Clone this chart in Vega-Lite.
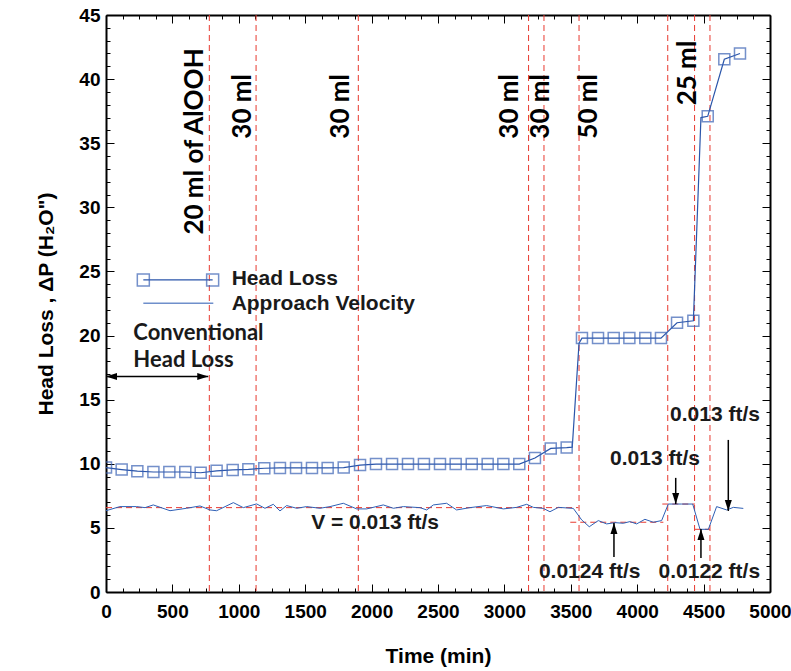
{
  "$schema": "https://vega.github.io/schema/vega-lite/v6.json",
  "width": 664,
  "height": 577,
  "autosize": {"type": "none"},
  "padding": {"left": 106, "top": 15, "right": 21, "bottom": 79},
  "background": "white",
  "config": {"view": {"stroke": null}},
  "datasets": {
    "hl": [
      {"t": 0, "h": 9.7}, {"t": 118, "h": 9.55}, {"t": 236, "h": 9.42}, {"t": 357, "h": 9.36},
      {"t": 477, "h": 9.36}, {"t": 597, "h": 9.36}, {"t": 713, "h": 9.3}, {"t": 833, "h": 9.45},
      {"t": 954, "h": 9.52}, {"t": 1072, "h": 9.57}, {"t": 1192, "h": 9.65}, {"t": 1310, "h": 9.68},
      {"t": 1431, "h": 9.68}, {"t": 1551, "h": 9.68}, {"t": 1669, "h": 9.68}, {"t": 1790, "h": 9.7},
      {"t": 1913, "h": 9.9}, {"t": 2033, "h": 9.98}, {"t": 2154, "h": 9.98}, {"t": 2274, "h": 9.98},
      {"t": 2394, "h": 9.98}, {"t": 2515, "h": 9.98}, {"t": 2633, "h": 9.98}, {"t": 2754, "h": 9.98},
      {"t": 2874, "h": 9.98}, {"t": 2992, "h": 9.98}, {"t": 3112, "h": 9.98}, {"t": 3230, "h": 10.45},
      {"t": 3349, "h": 11.2}, {"t": 3469, "h": 11.26}, {"t": 3584, "h": 19.8}, {"t": 3705, "h": 19.8},
      {"t": 3823, "h": 19.8}, {"t": 3941, "h": 19.8}, {"t": 4061, "h": 19.8}, {"t": 4179, "h": 19.8},
      {"t": 4300, "h": 21.0}, {"t": 4423, "h": 21.15}, {"t": 4531, "h": 37.1}, {"t": 4656, "h": 41.55},
      {"t": 4774, "h": 42.0}
    ],
    "hlline": [
      {"t": 0, "h": 9.7}, {"t": 118, "h": 9.55}, {"t": 236, "h": 9.42}, {"t": 357, "h": 9.36},
      {"t": 477, "h": 9.36}, {"t": 597, "h": 9.36}, {"t": 713, "h": 9.3}, {"t": 833, "h": 9.45},
      {"t": 954, "h": 9.52}, {"t": 1072, "h": 9.57}, {"t": 1192, "h": 9.65}, {"t": 1310, "h": 9.68},
      {"t": 1431, "h": 9.68}, {"t": 1551, "h": 9.68}, {"t": 1669, "h": 9.68}, {"t": 1790, "h": 9.7},
      {"t": 1913, "h": 9.9}, {"t": 2033, "h": 9.98}, {"t": 2154, "h": 9.98}, {"t": 2274, "h": 9.98},
      {"t": 2394, "h": 9.98}, {"t": 2515, "h": 9.98}, {"t": 2633, "h": 9.98}, {"t": 2754, "h": 9.98},
      {"t": 2874, "h": 9.98}, {"t": 2992, "h": 9.98}, {"t": 3112, "h": 9.98}, {"t": 3230, "h": 10.45},
      {"t": 3349, "h": 11.2}, {"t": 3469, "h": 11.26}, {"t": 3511, "h": 11.3}, {"t": 3562, "h": 19.4},
      {"t": 3584, "h": 19.8}, {"t": 3705, "h": 19.8},
      {"t": 3823, "h": 19.8}, {"t": 3941, "h": 19.8}, {"t": 4061, "h": 19.8}, {"t": 4179, "h": 19.8},
      {"t": 4300, "h": 21.0}, {"t": 4423, "h": 21.15}, {"t": 4480, "h": 37.0}, {"t": 4531, "h": 37.1},
      {"t": 4656, "h": 41.55}, {"t": 4774, "h": 42.0}
    ],
    "vel": [
      {"t": 0, "v": 6.34}, {"t": 105, "v": 6.66}, {"t": 231, "v": 6.66}, {"t": 294, "v": 6.58},
      {"t": 356, "v": 6.79}, {"t": 482, "v": 6.34}, {"t": 607, "v": 6.53}, {"t": 708, "v": 6.71},
      {"t": 783, "v": 6.4}, {"t": 833, "v": 6.34}, {"t": 959, "v": 6.97}, {"t": 1034, "v": 6.58},
      {"t": 1134, "v": 6.87}, {"t": 1197, "v": 6.53}, {"t": 1260, "v": 6.84}, {"t": 1310, "v": 6.32},
      {"t": 1360, "v": 6.74}, {"t": 1436, "v": 6.53}, {"t": 1511, "v": 6.66}, {"t": 1611, "v": 6.53},
      {"t": 1687, "v": 6.66}, {"t": 1787, "v": 6.92}, {"t": 1888, "v": 6.48}, {"t": 1963, "v": 6.48},
      {"t": 2088, "v": 6.79}, {"t": 2164, "v": 6.53}, {"t": 2239, "v": 6.66}, {"t": 2364, "v": 6.58},
      {"t": 2415, "v": 6.4}, {"t": 2465, "v": 6.79}, {"t": 2565, "v": 6.92}, {"t": 2640, "v": 6.4},
      {"t": 2741, "v": 6.58}, {"t": 2866, "v": 6.74}, {"t": 2992, "v": 6.48}, {"t": 3092, "v": 6.6},
      {"t": 3168, "v": 6.84}, {"t": 3218, "v": 6.6}, {"t": 3293, "v": 6.52}, {"t": 3343, "v": 6.26},
      {"t": 3406, "v": 6.6}, {"t": 3519, "v": 6.52}, {"t": 3582, "v": 5.62}, {"t": 3639, "v": 5.09},
      {"t": 3707, "v": 5.57}, {"t": 3770, "v": 5.31}, {"t": 3833, "v": 5.41}, {"t": 3895, "v": 5.36},
      {"t": 3945, "v": 5.49}, {"t": 3996, "v": 5.31}, {"t": 4058, "v": 5.67}, {"t": 4121, "v": 5.44},
      {"t": 4184, "v": 5.57}, {"t": 4234, "v": 6.86}, {"t": 4335, "v": 6.86}, {"t": 4418, "v": 6.86},
      {"t": 4473, "v": 4.89}, {"t": 4536, "v": 4.89}, {"t": 4598, "v": 6.66}, {"t": 4674, "v": 6.4},
      {"t": 4724, "v": 6.6}, {"t": 4799, "v": 6.52}
    ],
    "vlines": [
      {"t": 778}, {"t": 1130}, {"t": 1900}, {"t": 3182}, {"t": 3298}, {"t": 3562}, {"t": 4230}, {"t": 4432}, {"t": 4548}
    ],
    "hseg": [
      {"x1": 0, "x2": 3557, "y": 6.58},
      {"x1": 3496, "x2": 4197, "y": 5.44},
      {"x1": 4189, "x2": 4435, "y": 6.86},
      {"x1": 4435, "x2": 4548, "y": 4.89}
    ],
    "vlabels": [
      {"t": 670, "y": 42.4, "label": "20 ml of AlOOH"},
      {"t": 1032, "y": 40.4, "label": "30 ml"},
      {"t": 1770, "y": 40.4, "label": "30 ml"},
      {"t": 3042, "y": 40.4, "label": "30 ml"},
      {"t": 3275, "y": 40.4, "label": "30 ml"},
      {"t": 3637, "y": 40.4, "label": "50 ml"},
      {"t": 4382, "y": 43.0, "label": "25 ml"}
    ],
    "notes": [
      {"t": 2026, "y": 5.4, "label": "V = 0.013 ft/s"},
      {"t": 3642, "y": 1.53, "label": "0.0124 ft/s"},
      {"t": 4543, "y": 1.53, "label": "0.0122 ft/s"},
      {"t": 4134, "y": 10.36, "label": "0.013 ft/s"},
      {"t": 4586, "y": 13.8, "label": "0.013 ft/s"},
      {"t": 946, "y": 24.4, "label": "Head Loss", "kind": "legend"},
      {"t": 946, "y": 22.5, "label": "Approach  Velocity", "kind": "legend"}
    ],
    "conv": [
      {"t": 206, "y": 20.18, "label": "Conventional"},
      {"t": 206, "y": 18.1, "label": "Head Loss"}
    ],
    "arrows": [
      {"x": 3825, "y1": 2.73, "y2": 5.38, "dir": "up"},
      {"x": 4480, "y1": 2.65, "y2": 4.92, "dir": "up"},
      {"x": 4290, "y1": 8.9, "y2": 6.86, "dir": "down"},
      {"x": 4686, "y1": 11.86, "y2": 6.32, "dir": "down"}
    ],
    "harrow": [{"x1": 0, "x2": 770, "y": 16.8}],
    "leghl": [{"x1": 281, "x2": 803, "y": 24.34}],
    "leghlsq": [{"t": 281, "y": 24.34}, {"t": 803, "y": 24.34}],
    "legvel": [{"x1": 281, "x2": 808, "y": 22.52}]
  },
  "layer": [
    {
      "data": {"name": "vlines"},
      "mark": {"type": "rule", "color": "#E8392F", "strokeDash": [6, 4], "strokeWidth": 1},
      "encoding": {
        "x": {"field": "t", "type": "quantitative", "scale": {"domain": [0, 5000], "nice": false, "zero": false}, "axis": null}
      }
    },
    {
      "data": {"name": "hseg"},
      "mark": {"type": "rule", "color": "#E8392F", "strokeDash": [6, 4], "strokeWidth": 1},
      "encoding": {
        "x": {"field": "x1", "type": "quantitative", "axis": null},
        "x2": {"field": "x2"},
        "y": {"field": "y", "type": "quantitative", "scale": {"domain": [0, 45], "nice": false, "zero": false}, "axis": null}
      }
    },
    {
      "data": {"name": "vel"},
      "mark": {"type": "line", "color": "#2E5FB5", "strokeWidth": 1},
      "encoding": {
        "x": {
          "field": "t", "type": "quantitative",
          "scale": {"domain": [0, 5000], "nice": false, "zero": false},
          "axis": {
            "orient": "bottom",
            "values": [0,125,250,375,500,625,750,875,1000,1125,1250,1375,1500,1625,1750,1875,2000,2125,2250,2375,2500,2625,2750,2875,3000,3125,3250,3375,3500,3625,3750,3875,4000,4125,4250,4375,4500,4625,4750,4875,5000],
            "format": "d",
            "labelExpr": "datum.value % 500 === 0 ? datum.label : ''",
            "tickSize": {"condition": {"test": "datum.value % 500 === 0", "value": -8}, "value": -4},
            "tickColor": "black", "tickWidth": 1,
            "domainColor": "black", "domainWidth": 2,
            "labelPadding": 18, "labelFont": "Liberation Sans", "labelFontWeight": "bold", "labelFontSize": 19, "labelColor": "black",
            "labelFlush": false, "labelOverlap": false,
            "grid": false,
            "title": "Time (min)", "titleFont": "Liberation Sans", "titleFontWeight": "bold", "titleFontSize": 21, "titleColor": "black", "titlePadding": 20
          }
        },
        "y": {
          "field": "v", "type": "quantitative",
          "scale": {"domain": [0, 45], "nice": false, "zero": false},
          "axis": {
            "orient": "left",
            "values": [0,1,2,3,4,5,6,7,8,9,10,11,12,13,14,15,16,17,18,19,20,21,22,23,24,25,26,27,28,29,30,31,32,33,34,35,36,37,38,39,40,41,42,43,44,45],
            "labelExpr": "datum.value % 5 === 0 ? datum.label : ''",
            "tickSize": {"condition": {"test": "datum.value % 5 === 0", "value": -8}, "value": -4},
            "tickColor": "black", "tickWidth": 1,
            "domainColor": "black", "domainWidth": 2,
            "labelPadding": 14, "labelFont": "Liberation Sans", "labelFontWeight": "bold", "labelFontSize": 19, "labelColor": "black",
            "labelFlush": false, "labelOverlap": false,
            "grid": false,
            "title": "Head Loss , ΔP (H₂O\")", "titleFont": "Liberation Sans", "titleFontWeight": "bold", "titleFontSize": 21, "titleColor": "black", "titlePadding": 22
          }
        }
      }
    },
    {
      "data": {"name": "hlline"},
      "mark": {"type": "line", "color": "#2A55AA", "strokeWidth": 1.2},
      "encoding": {
        "x": {
          "field": "t", "type": "quantitative",
          "scale": {"domain": [0, 5000], "nice": false, "zero": false},
          "axis": {
            "orient": "top",
            "values": [0,125,250,375,500,625,750,875,1000,1125,1250,1375,1500,1625,1750,1875,2000,2125,2250,2375,2500,2625,2750,2875,3000,3125,3250,3375,3500,3625,3750,3875,4000,4125,4250,4375,4500,4625,4750,4875,5000],
            "labels": false,
            "tickSize": {"condition": {"test": "datum.value % 500 === 0", "value": -8}, "value": -4},
            "tickColor": "black", "tickWidth": 1,
            "domainColor": "black", "domainWidth": 2,
            "grid": false, "title": null
          }
        },
        "y": {
          "field": "h", "type": "quantitative",
          "scale": {"domain": [0, 45], "nice": false, "zero": false},
          "axis": {
            "orient": "right",
            "values": [0,1,2,3,4,5,6,7,8,9,10,11,12,13,14,15,16,17,18,19,20,21,22,23,24,25,26,27,28,29,30,31,32,33,34,35,36,37,38,39,40,41,42,43,44,45],
            "labels": false,
            "tickSize": {"condition": {"test": "datum.value % 5 === 0", "value": -8}, "value": -4},
            "tickColor": "black", "tickWidth": 1,
            "domainColor": "black", "domainWidth": 2,
            "grid": false, "title": null
          }
        }
      }
    },
    {
      "data": {"name": "hl"},
      "mark": {"type": "point", "shape": "square", "filled": false, "size": 121, "color": "#3A62B5", "strokeWidth": 1.5, "clip": true},
      "encoding": {
        "x": {"field": "t", "type": "quantitative", "axis": null},
        "y": {"field": "h", "type": "quantitative", "axis": null}
      }
    },
    {
      "data": {"name": "vlabels"},
      "mark": {"type": "text", "angle": 270, "align": "right", "baseline": "middle", "font": "Lato", "fontWeight": "bold", "fontSize": 26, "color": "black"},
      "encoding": {
        "x": {"field": "t", "type": "quantitative", "axis": null},
        "y": {"field": "y", "type": "quantitative", "axis": null},
        "text": {"field": "label"}
      }
    },
    {
      "data": {"name": "notes"},
      "transform": [{"filter": "datum.kind !== 'legend'"}],
      "mark": {"type": "text", "align": "center", "baseline": "middle", "font": "Liberation Sans", "fontWeight": "bold", "fontSize": 21, "color": "#1a1a1a"},
      "encoding": {
        "x": {"field": "t", "type": "quantitative", "axis": null},
        "y": {"field": "y", "type": "quantitative", "axis": null},
        "text": {"field": "label"}
      }
    },
    {
      "data": {"name": "notes"},
      "transform": [{"filter": "datum.kind === 'legend'"}],
      "mark": {"type": "text", "align": "left", "baseline": "middle", "font": "Liberation Sans", "fontWeight": "bold", "fontSize": 21, "color": "#1a1a1a"},
      "encoding": {
        "x": {"field": "t", "type": "quantitative", "axis": null},
        "y": {"field": "y", "type": "quantitative", "axis": null},
        "text": {"field": "label"}
      }
    },
    {
      "data": {"name": "conv"},
      "mark": {"type": "text", "align": "left", "baseline": "middle", "font": "Lato", "fontWeight": "bold", "fontSize": 22, "color": "#1a1a1a"},
      "encoding": {
        "x": {"field": "t", "type": "quantitative", "axis": null},
        "y": {"field": "y", "type": "quantitative", "axis": null},
        "text": {"field": "label"}
      }
    },
    {
      "data": {"name": "arrows"},
      "mark": {"type": "rule", "color": "black", "strokeWidth": 1.5},
      "encoding": {
        "x": {"field": "x", "type": "quantitative", "axis": null},
        "y": {"field": "y1", "type": "quantitative", "axis": null},
        "y2": {"field": "y2"}
      }
    },
    {
      "data": {"name": "arrows"},
      "transform": [{"filter": "datum.dir === 'up'"}],
      "mark": {"type": "point", "shape": "M0,0L-0.7,2.2L0.7,2.2Z", "filled": true, "size": 100, "color": "black", "opacity": 1},
      "encoding": {
        "x": {"field": "x", "type": "quantitative", "axis": null},
        "y": {"field": "y2", "type": "quantitative", "axis": null}
      }
    },
    {
      "data": {"name": "arrows"},
      "transform": [{"filter": "datum.dir === 'down'"}],
      "mark": {"type": "point", "shape": "M0,0L-0.7,-2.2L0.7,-2.2Z", "filled": true, "size": 100, "color": "black", "opacity": 1},
      "encoding": {
        "x": {"field": "x", "type": "quantitative", "axis": null},
        "y": {"field": "y2", "type": "quantitative", "axis": null}
      }
    },
    {
      "data": {"name": "harrow"},
      "mark": {"type": "rule", "color": "black", "strokeWidth": 1.5},
      "encoding": {
        "x": {"field": "x1", "type": "quantitative", "axis": null},
        "x2": {"field": "x2"},
        "y": {"field": "y", "type": "quantitative", "axis": null}
      }
    },
    {
      "data": {"name": "harrow"},
      "mark": {"type": "point", "shape": "M0,0L2.2,-0.7L2.2,0.7Z", "filled": true, "size": 100, "color": "black", "opacity": 1},
      "encoding": {
        "x": {"field": "x1", "type": "quantitative", "axis": null},
        "y": {"field": "y", "type": "quantitative", "axis": null}
      }
    },
    {
      "data": {"name": "harrow"},
      "mark": {"type": "point", "shape": "M0,0L-2.2,-0.7L-2.2,0.7Z", "filled": true, "size": 100, "color": "black", "opacity": 1},
      "encoding": {
        "x": {"field": "x2", "type": "quantitative", "axis": null},
        "y": {"field": "y", "type": "quantitative", "axis": null}
      }
    },
    {
      "data": {"name": "leghl"},
      "mark": {"type": "rule", "color": "#2A55AA", "strokeWidth": 1.2},
      "encoding": {
        "x": {"field": "x1", "type": "quantitative", "axis": null},
        "x2": {"field": "x2"},
        "y": {"field": "y", "type": "quantitative", "axis": null}
      }
    },
    {
      "data": {"name": "leghlsq"},
      "mark": {"type": "point", "shape": "square", "filled": false, "size": 144, "color": "#3A62B5", "strokeWidth": 1.5},
      "encoding": {
        "x": {"field": "t", "type": "quantitative", "axis": null},
        "y": {"field": "y", "type": "quantitative", "axis": null}
      }
    },
    {
      "data": {"name": "legvel"},
      "mark": {"type": "rule", "color": "#6F8FCB", "strokeWidth": 1.5},
      "encoding": {
        "x": {"field": "x1", "type": "quantitative", "axis": null},
        "x2": {"field": "x2"},
        "y": {"field": "y", "type": "quantitative", "axis": null}
      }
    }
  ],
  "resolve": {"axis": {"x": "independent", "y": "independent"}}
}
